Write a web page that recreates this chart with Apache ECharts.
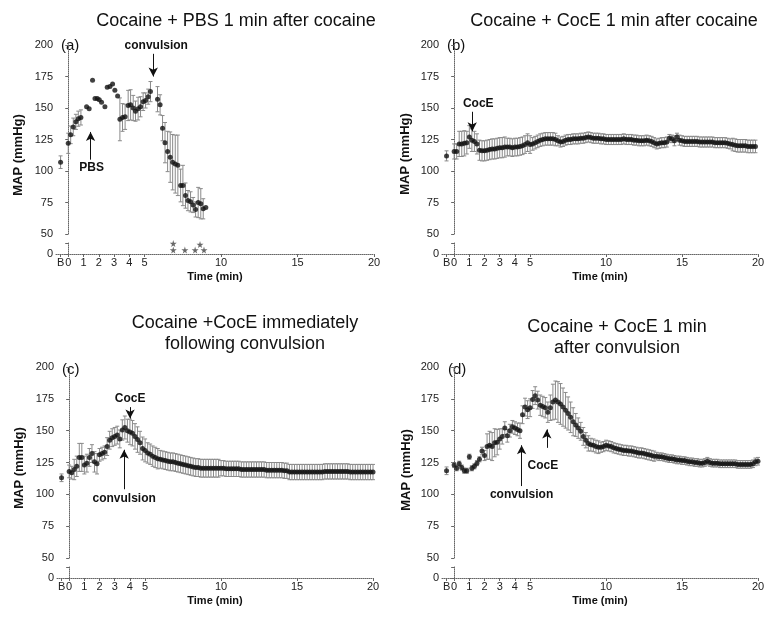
<!DOCTYPE html>
<html>
<head>
<meta charset="utf-8">
<script src="https://cdn.jsdelivr.net/npm/echarts@6/dist/echarts.min.js"></script>
<style>
html, body { margin: 0; padding: 0; background: #fff; }
#chart { width: 767px; height: 618px; }
</style>
</head>
<body>
<div id="chart"></div>
<script>
// x axis ticks, -0.5 is the baseline "B"
var xTickValues = [-0.5, 0, 1, 2, 3, 4, 5, 10, 15, 20];
var STEP = 1 / 6;   // one sample every 10 s
var baseTime = -0.5;

// (a) Cocaine + PBS
var aTime = [-0.5, 0, 0.16, 0.33, 0.5, 0.66, 0.83, 1.2, 1.37, 1.59,
    1.75, 1.9, 2.03, 2.18, 2.4, 2.55, 2.73, 2.9, 3.05, 3.23,
    3.38, 3.55, 3.72, 3.92, 4.08, 4.25, 4.4, 4.57, 4.73, 4.9,
    5.06, 5.23, 5.38, 5.84, 6.01, 6.17, 6.33, 6.5, 6.67, 6.83,
    7.0, 7.17, 7.35, 7.5, 7.67, 7.83, 8.0, 8.17, 8.33, 8.5,
    8.67, 8.83, 9.0];
var aMap = [107, 122, 128.7, 135, 139, 141.5, 142.5, 151, 149.5, 172,
    157.5, 157.5, 156.5, 154.5, 151, 166.5, 167, 169, 164, 159.5,
    141, 142.5, 143, 152, 152.5, 150, 147.5, 149.5, 151, 155,
    156, 159, 163, 157, 152.5, 134, 122.5, 115.5, 111, 107,
    105.5, 104.5, 88.5, 88.5, 80.5, 76.5, 75.5, 73, 69.5, 75,
    74, 70, 71];
var aSem = [5, 8, 7, 7, 6, 6, 6, 0, 0, 0,
    0, 0, 0, 0, 0, 0, 0, 0, 0, 0,
    17, 11, 10, 12, 12, 10, 8, 9, 8, 7,
    6, 6, 8, 10, 8, 10, 16, 16, 20, 22,
    23, 24, 13, 16, 10, 8, 8, 6, 6, 12,
    12, 8, 0];
// significance stars under (a)
var aStarTime = [6.87, 6.87, 7.63, 8.3, 8.62, 8.88];
var aStarLevel = [3.6, 9.5, 3.6, 3.6, 8.6, 3.6];

// (b) Cocaine + CocE 1 min after cocaine
var bBase = 112, bBaseSem = 4;
var bMap = [115.5, 115.5, 121.5, 121.5, 122, 122.5, 127, 124.5, 123.5, 121.5,
    116.5, 116, 116, 116.5, 117, 117.5, 117.5, 118, 118.5, 118.5,
    119, 119, 119, 118.5, 119, 119, 119.5, 120, 121, 122.5,
    121, 121.5, 122.5, 123.5, 124.5, 125, 125.5, 125.5, 125.5, 125.5,
    125, 124, 123, 123.5, 124.5, 125, 125, 125.5, 125.5, 125.5,
    126, 126, 126.5, 127, 126.5, 126, 126, 126, 125.5, 125.5,
    125, 125, 125, 125, 125, 125, 125, 125.5, 125, 125,
    125, 124.5, 124.5, 124, 124, 124, 124.5, 124, 123.5, 122.5,
    121.5, 122, 122.5, 122.5, 123, 126, 125.5, 124, 127, 124.5,
    124, 123.5, 123.5, 123.5, 123.5, 123.5, 123.5, 123, 123, 123,
    123, 123, 123, 122.5, 122.5, 122.5, 122.5, 122.5, 122, 121.5,
    121, 120.5, 120, 120, 120, 120, 119.5, 119.5, 119.5, 119.5];
var bSem = [6, 6, 10, 10, 10, 9, 9, 9, 8, 8,
    8, 8, 8, 8, 8, 8, 8, 8, 8, 8,
    8, 7, 7, 7, 7, 7, 7, 7, 7, 7,
    7, 5, 5, 5, 5, 5, 5, 5, 5, 5,
    5, 4, 4, 4, 4, 4, 4, 4, 4, 4,
    4, 4, 4, 4, 4, 4, 4, 4, 4, 4,
    4, 4, 4, 4, 4, 4, 4, 4, 4, 4,
    4, 4, 4, 4, 4, 4, 4, 4, 4, 4,
    4, 4, 4, 4, 4, 3, 3, 4, 3, 4,
    4, 4, 4, 4, 4, 4, 4, 4, 4, 4,
    4, 4, 4, 4, 4, 4, 4, 4, 4, 4,
    5, 5, 5, 5, 5, 5, 5, 5, 5, 5];

// (c) Cocaine + CocE immediately following convulsion
var cBase = 113, cBaseSem = 3;
var cMap = [118, 117, 119.5, 122, 129, 129, 123, 124.5, 129, 132,
    125.5, 124, 131, 132, 133, 137.5, 142.5, 144.5, 145.5, 146.5,
    143.5, 150.5, 152.5, 150, 149, 148, 145.5, 143, 140.5, 136,
    134.5, 132.5, 131.5, 130, 129, 128, 127.5, 127, 126.5, 126,
    125.5, 125.5, 125, 124.5, 124, 123.5, 123, 122.5, 122, 121.5,
    121, 121, 120.5, 120.5, 120.5, 120.5, 120.5, 120.5, 120.5, 120.5,
    120.5, 120.5, 120, 120, 120, 120, 120, 120, 119.5, 119.5,
    119.5, 119.5, 119.5, 119.5, 119.5, 119.5, 119.5, 119.5, 119, 119,
    119, 119, 119, 119, 119, 118.5, 118.5, 117.5, 117.5, 117.5,
    117.5, 117.5, 117.5, 117.5, 117.5, 117.5, 117.5, 117.5, 117.5, 117.5,
    117.5, 118, 118, 118, 118, 118, 118, 118, 118, 118,
    118, 117.5, 117.5, 117.5, 117.5, 117.5, 117.5, 117.5, 117.5, 117.5,
    117.5];
var cSem = [5, 5, 8, 8, 11, 11, 7, 7, 7, 7,
    8, 8, 5, 5, 5, 7, 7, 7, 7, 7,
    7, 8, 9, 9, 10, 10, 10, 10, 9, 9,
    9, 8, 8, 8, 8, 8, 7, 7, 7, 7,
    7, 7, 7, 7, 7, 7, 7, 7, 7, 7,
    7, 7, 7, 7, 7, 7, 7, 7, 7, 7,
    6, 6, 6, 6, 6, 6, 6, 6, 6, 6,
    6, 6, 6, 6, 6, 6, 6, 6, 6, 6,
    6, 6, 6, 6, 6, 6, 6, 6, 6, 6,
    6, 6, 6, 6, 6, 6, 6, 6, 6, 6,
    6, 6, 6, 6, 6, 6, 6, 6, 6, 6,
    6, 6, 6, 6, 6, 6, 6, 6, 6, 6,
    6];

// (d) Cocaine + CocE 1 min after convulsion
var dBase = 118.5, dBaseSem = 3;
var dMap = [123, 120.5, 124, 121, 118.5, 118.5, 129.5, 120.5, 122, 124.5,
    127.5, 134, 130.5, 137.5, 138.5, 137.5, 140.5, 141, 143.5, 145.5,
    152, 146, 150, 153, 152, 151, 150, 162.5, 168.5, 166.5,
    168, 174.5, 177.5, 174, 170, 169, 168, 164.5, 168, 172.5,
    174, 172.5, 171, 168.5, 166, 163.5, 160.5, 157, 154.5, 152,
    149.5, 145.5, 142.5, 140, 139, 138.5, 137.5, 137, 137, 137.5,
    138.5, 138, 137.5, 136.5, 136, 135.5, 135, 134.5, 134.5, 134,
    134, 133.5, 133, 132.5, 132.5, 132, 131.5, 131, 130.5, 130,
    130, 129.5, 129.5, 129, 128.5, 128, 128, 127.5, 127, 127,
    126.5, 126.5, 126, 125.5, 125.5, 125, 125, 124.5, 124.5, 125,
    126, 125, 124.5, 124.5, 124.5, 124, 124, 124, 124, 124,
    124, 124, 123.5, 123.5, 123.5, 123.5, 123.5, 123.5, 124, 125.5,
    126];
var dSem = [2, 2, 2, 2, 2, 2, 2, 2, 2, 2,
    2, 3, 4, 10, 11, 11, 11, 10, 8, 6,
    5, 5, 5, 5, 5, 5, 6, 7, 7, 7,
    7, 7, 7, 7, 8, 8, 8, 8, 10, 14,
    15, 16, 16, 15, 14, 13, 12, 11, 9, 8,
    7, 7, 6, 6, 5, 5, 5, 5, 4, 4,
    4, 4, 4, 4, 4, 4, 4, 4, 4, 4,
    4, 4, 4, 4, 4, 4, 4, 4, 4, 4,
    3, 3, 3, 3, 3, 3, 3, 3, 3, 3,
    3, 3, 3, 3, 3, 3, 3, 3, 3, 3,
    3, 3, 3, 3, 3, 3, 3, 3, 3, 3,
    3, 3, 3, 3, 3, 3, 3, 3, 3, 3,
    3];

// arrows: x in min, tail / tip in mmHg, dx shifts the label sideways
var aNotes = [
    { text: 'convulsion', x: 5.56, tail: 193, tip: 175, gap: 2, dx: 3 },
    { text: 'PBS', x: 1.46, tail: 109, tip: 131, gap: 2, dx: 1 }
];
var bNotes = [
    { text: 'CocE', x: 1.19, tail: 147, tip: 131.5, gap: 2, dx: 6 }
];
var cNotes = [
    { text: 'CocE', x: 4.01, tail: 168.5, tip: 159.5, gap: 2, dx: 0 },
    { text: 'convulsion', x: 3.62, tail: 104, tip: 135, gap: 3, dx: 0 }
];
var dNotes = [
    { text: 'convulsion', x: 4.44, tail: 106.5, tip: 138.5, gap: 3, dx: 0 },
    { text: 'CocE', x: 6.1, tail: 136.5, tip: 151, gap: 12, dx: -4 }
];

var titles = ['Cocaine + PBS 1 min after cocaine', 'Cocaine + CocE 1 min after cocaine',
    'Cocaine +CocE immediately\nfollowing convulsion', 'Cocaine + CocE 1 min\nafter convulsion'];
var letters = ['(a)', '(b)', '(c)', '(d)'];

// panel geometry (pixels)
var layout = [
    { left: 56, top: 45, h: 189, lowTop: 243, width: 318, titleX: 231, titleY: 6, letter: [61, 46], yName: [18, 155] },
    { left: 442, top: 45, h: 189, lowTop: 243, width: 316, titleX: 609, titleY: 6, letter: [447, 46], yName: [405, 154] },
    { left: 57, top: 367, h: 191, lowTop: 567, width: 316, titleX: 240, titleY: 308, letter: [62, 370], yName: [19, 468] },
    { left: 442, top: 367, h: 191, lowTop: 567, width: 316, titleX: 612, titleY: 312, letter: [448, 370], yName: [406, 470] }
];

var FONT = 'Liberation Sans, Arial, sans-serif';
var axisGrey = '#666';

function sampled(base, baseSem, values, sems) {
    var pts = [[baseTime, base]];
    var bars = [[baseTime, base - baseSem, base + baseSem]];
    for (var i = 0; i < values.length; i++) {
        var t = i * STEP;
        pts.push([t, values[i]]);
        if (sems[i] > 0) bars.push([t, values[i] - sems[i], values[i] + sems[i]]);
    }
    return { pts: pts, bars: bars };
}

function listed(times, values, sems) {
    var pts = [], bars = [];
    for (var i = 0; i < times.length; i++) {
        pts.push([times[i], values[i]]);
        if (sems[i] > 0) bars.push([times[i], values[i] - sems[i], values[i] + sems[i]]);
    }
    return { pts: pts, bars: bars };
}

function renderErrorBar(params, api) {
    var x = api.value(0);
    var lo = api.coord([x, api.value(1)]);
    var hi = api.coord([x, api.value(2)]);
    var w = 2;
    var style = { stroke: '#8a8a8a', lineWidth: 1 };
    return {
        type: 'group',
        children: [
            { type: 'line', shape: { x1: hi[0], y1: hi[1], x2: lo[0], y2: lo[1] }, style: style },
            { type: 'line', shape: { x1: hi[0] - w, y1: hi[1], x2: hi[0] + w, y2: hi[1] }, style: style },
            { type: 'line', shape: { x1: lo[0] - w, y1: lo[1], x2: lo[0] + w, y2: lo[1] }, style: style }
        ]
    };
}

function noteLines(notes) {
    return notes.map(function (n) {
        return [
            { name: n.text, coord: [n.x, n.tail], label: { distance: n.gap, offset: [n.dx, 0] } },
            { coord: [n.x, n.tip] }
        ];
    });
}

var panelData = [
    listed(aTime, aMap, aSem),
    sampled(bBase, bBaseSem, bMap, bSem),
    sampled(cBase, cBaseSem, cMap, cSem),
    sampled(dBase, dBaseSem, dMap, dSem)
];
var panelNotes = [aNotes, bNotes, cNotes, dNotes];

var grids = [], xAxes = [], yAxes = [], series = [], titleList = [], graphics = [];

layout.forEach(function (p, k) {
    var up = k * 2, low = k * 2 + 1;
    grids.push({ left: p.left, top: p.top, width: p.width, height: p.h, outerBoundsMode: 'none', containLabel: false });
    grids.push({ left: p.left, top: p.lowTop, width: p.width, height: 11, outerBoundsMode: 'none', containLabel: false });

    xAxes.push({ type: 'value', gridIndex: up, min: -0.8, max: 20, show: false });
    xAxes.push({
        type: 'value', gridIndex: low, min: -0.8, max: 20,
        axisLine: { lineStyle: { color: axisGrey, type: 'dotted' } },
        axisTick: { customValues: xTickValues, length: 3, lineStyle: { color: axisGrey } },
        axisLabel: {
            customValues: xTickValues, margin: 3, fontSize: 11, color: '#222', fontFamily: FONT,
            formatter: function (v) { return v === -0.5 ? 'B' : String(v); }
        },
        splitLine: { show: false },
        name: 'Time (min)', nameLocation: 'middle', nameGap: 17,
        nameTextStyle: { fontSize: 11, fontWeight: 'bold', color: '#111', fontFamily: FONT }
    });

    yAxes.push({
        type: 'value', gridIndex: up, min: 50, max: 200, interval: 25,
        axisLine: { show: true, lineStyle: { color: axisGrey, type: 'dotted' } },
        axisTick: { show: true, length: 3, lineStyle: { color: axisGrey } },
        axisLabel: { fontSize: 11, color: '#222', margin: 3, fontFamily: FONT },
        splitLine: { show: false }
    });
    yAxes.push({
        type: 'value', gridIndex: low, min: 0, max: 10,
        axisLine: { show: true, lineStyle: { color: axisGrey, type: 'dotted' } },
        axisTick: { show: true, customValues: [0, 10], length: 3, lineStyle: { color: axisGrey } },
        axisLabel: { customValues: [0], fontSize: 11, color: '#222', margin: 3, fontFamily: FONT },
        splitLine: { show: false }
    });

    var d = panelData[k];
    series.push({
        type: 'custom', xAxisIndex: up, yAxisIndex: up,
        renderItem: renderErrorBar, data: d.bars, encode: { x: 0, y: [1, 2] }, z: 2
    });
    series.push({
        type: 'scatter', xAxisIndex: up, yAxisIndex: up,
        data: d.pts, symbol: 'circle', symbolSize: 5,
        itemStyle: { color: '#111' }, z: 3,
        markLine: {
            silent: true, animation: false,
            symbol: ['none', 'arrow'], symbolSize: [7, 9],
            lineStyle: { color: '#111', width: 1, type: 'solid' },
            label: {
                show: true, position: 'start', formatter: '{b}',
                fontSize: 12, fontWeight: 'bold', color: '#111', fontFamily: FONT
            },
            data: noteLines(panelNotes[k])
        }
    });

    titleList.push({
        text: titles[k], left: p.titleX, top: p.titleY, textAlign: 'center',
        textStyle: { fontSize: 18, fontWeight: 'normal', color: '#111', fontFamily: FONT, lineHeight: 21 }
    });
    graphics.push({
        type: 'text', x: p.letter[0], y: p.letter[1],
        style: { text: letters[k], font: '15px ' + FONT, fill: '#111', textVerticalAlign: 'middle' }
    });
    graphics.push({
        type: 'text', x: p.yName[0], y: p.yName[1], rotation: Math.PI / 2,
        style: { text: 'MAP (mmHg)', font: 'bold 13px ' + FONT, fill: '#111', textAlign: 'center', textVerticalAlign: 'middle' }
    });
});

// stars for (a), drawn in the short lower segment
var starPts = aStarTime.map(function (t, i) { return [t, aStarLevel[i]]; });
series.push({
    type: 'scatter', xAxisIndex: 1, yAxisIndex: 1, clip: false,
    data: starPts, symbolSize: 7,
    symbol: 'path://M50,0 L61,35 L98,35 L68,57 L79,91 L50,70 L21,91 L32,57 L2,35 L39,35 Z',
    itemStyle: { color: '#444' }
});

var myChart = echarts.init(document.getElementById('chart'));
myChart.setOption({
    animation: false,
    backgroundColor: '#fff',
    title: titleList,
    grid: grids,
    xAxis: xAxes,
    yAxis: yAxes,
    series: series,
    graphic: graphics
});
</script>
</body>
</html>
